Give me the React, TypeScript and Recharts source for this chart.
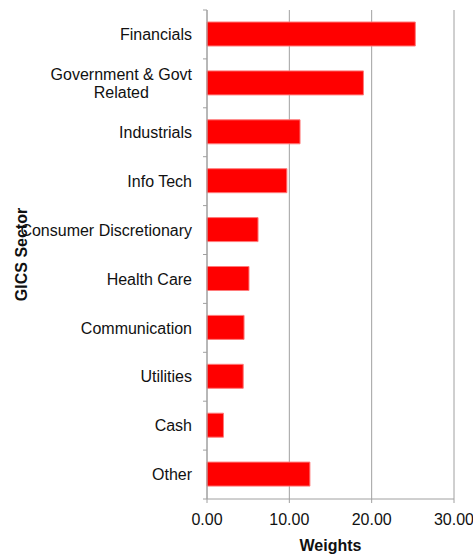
import React from "react";
import { BarChart, Bar, XAxis, YAxis, CartesianGrid } from "recharts";

const sectors = [
  "Financials",
  "Government & Govt|Related",
  "Industrials",
  "Info Tech",
  "Consumer Discretionary",
  "Health Care",
  "Communication",
  "Utilities",
  "Cash",
  "Other",
];
const weights = [25.3, 19.0, 11.3, 9.7, 6.2, 5.1, 4.5, 4.4, 2.0, 12.5];
const xTicks = [0, 10, 20, 30];

const data = sectors.map((sector, i) => ({ sector, weight: weights[i] }));

const WIDTH = 473;
const HEIGHT = 556;
const MARGIN = { top: 10, right: 19, bottom: 0, left: 0 };
const Y_AXIS_W = 207;
const X_AXIS_H = 57;
const PLOT_H = HEIGHT - MARGIN.top - MARGIN.bottom - X_AXIS_H;
const BAND = PLOT_H / sectors.length;

const FONT = "'Liberation Sans', Arial, sans-serif";
const AXIS_GRAY = "#a0a0a0";

let ctx: CanvasRenderingContext2D | null = null;
function textWidth(s: string) {
  if (!ctx) ctx = document.createElement("canvas").getContext("2d");
  if (!ctx) return s.length * 8;
  ctx.font = `16px ${FONT}`;
  return ctx.measureText(s).width;
}

// category label plus Excel-style tick marks on the band boundaries
function SectorTick(props: any) {
  const { x, y, payload, index } = props;
  const lines = String(payload.value).split("|");
  const lineH = 18;
  const maxW = Math.max(...lines.map(textWidth));
  const ax = x + 15;
  return (
    <g>
      <line x1={ax - 4} x2={ax} y1={y - BAND / 2} y2={y - BAND / 2} stroke={AXIS_GRAY} />
      {index === sectors.length - 1 && (
        <line x1={ax - 4} x2={ax} y1={y + BAND / 2} y2={y + BAND / 2} stroke={AXIS_GRAY} />
      )}
      <text
        fontFamily={FONT}
        fontSize={16}
        fill="#111"
        textAnchor={lines.length > 1 ? "middle" : "end"}
      >
        {lines.map((l, i) => (
          <tspan
            key={i}
            x={lines.length > 1 ? x - maxW / 2 : x}
            y={y + (i - (lines.length - 1) / 2) * lineH}
            dy="0.355em"
          >
            {l}
          </tspan>
        ))}
      </text>
    </g>
  );
}

export default function App() {
  return (
    <div style={{ position: "absolute", left: 0, top: 0 }}>
      <BarChart
        width={WIDTH}
        height={HEIGHT}
        data={data}
        layout="vertical"
        margin={MARGIN}
      >
        <CartesianGrid horizontal={false} stroke={AXIS_GRAY} />
        <XAxis
          type="number"
          domain={[0, 30]}
          ticks={xTicks}
          tickFormatter={(v: number) => v.toFixed(2)}
          height={X_AXIS_H}
          stroke={AXIS_GRAY}
          tickSize={4}
          tickMargin={11}
          tick={{ fill: "#111", fontSize: 16, fontFamily: FONT }}
          label={{
            value: "Weights",
            position: "insideBottom",
            offset: 5,
            fill: "#111",
            fontSize: 16,
            fontWeight: "bold",
            fontFamily: FONT,
          }}
        />
        <YAxis
          type="category"
          dataKey="sector"
          width={Y_AXIS_W}
          stroke={AXIS_GRAY}
          tickLine={false}
          tickSize={4}
          tickMargin={11}
          interval={0}
          tick={<SectorTick />}
          label={{
            content: (p: any) => {
              const vb = p.viewBox;
              const cy = vb.y + vb.height / 2;
              return (
                <text
                  x={27}
                  y={cy}
                  transform={`rotate(-90, 27, ${cy})`}
                  textAnchor="middle"
                  fontFamily={FONT}
                  fontSize={16}
                  fontWeight="bold"
                  fill="#111"
                >
                  GICS Sector
                </text>
              );
            },
          }}
        />
        <Bar
          dataKey="weight"
          fill="#ff0000"
          stroke="#ff7a7a"
          strokeWidth={1}
          barSize={24}
          isAnimationActive={false}
        />
      </BarChart>
    </div>
  );
}
